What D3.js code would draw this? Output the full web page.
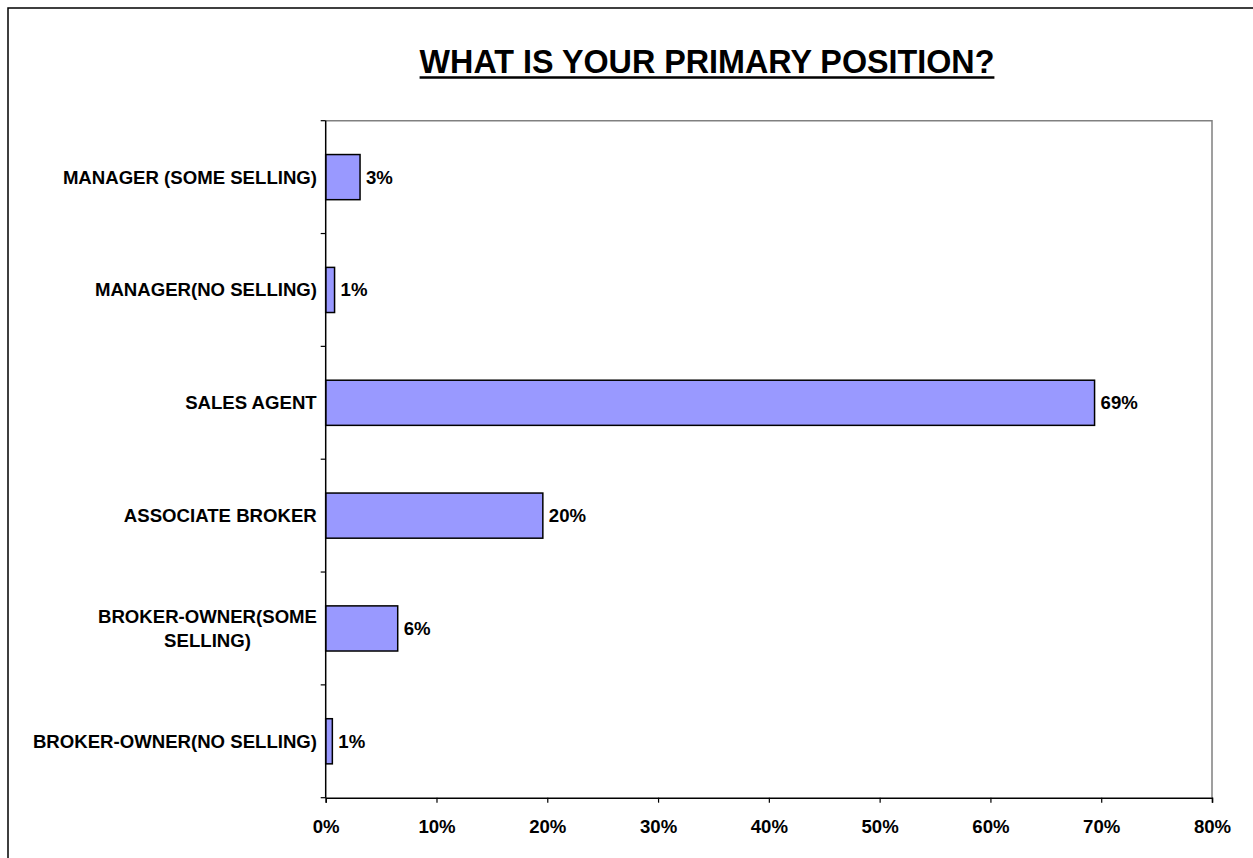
<!DOCTYPE html>
<html>
<head>
<meta charset="utf-8">
<script src="https://cdn.jsdelivr.net/npm/d3@7"></script>
<style>
  html, body { margin: 0; padding: 0; background: #fff; }
  svg { display: block; font-family: "Liberation Sans", Arial, sans-serif; }
</style>
</head>
<body>
<svg id="chart" width="1253" height="858"></svg>
<script>
// Survey responses: share of respondents by primary position
const categories = [
  "MANAGER (SOME SELLING)",
  "MANAGER(NO SELLING)",
  "SALES AGENT",
  "ASSOCIATE BROKER",
  "BROKER-OWNER(SOME SELLING)",
  "BROKER-OWNER(NO SELLING)"
];
const values = [3.1, 0.8, 69.4, 19.6, 6.5, 0.6];
const valueLabels = ["3%", "1%", "69%", "20%", "6%", "1%"];
const xTicks = [0, 10, 20, 30, 40, 50, 60, 70, 80];
const title = "WHAT IS YOUR PRIMARY POSITION?";

// Line breaks for long category names
const wrapped = {
  "BROKER-OWNER(SOME SELLING)": ["BROKER-OWNER(SOME", "SELLING)"]
};

const FS = 18.6;
const svg = d3.select("#chart");
const W = 1253, H = 858;
const plot = { left: 325.7, right: 1212, top: 120.7, bottom: 797.7 };

// Outer frame
svg.append("rect")
  .attr("x", 8).attr("y", 8)
  .attr("width", W + 10).attr("height", H + 10)
  .attr("fill", "none").attr("stroke", "#000").attr("stroke-width", 1.5);

const x = d3.scaleLinear().domain([0, 80]).range([plot.left, plot.right]);
const y = d3.scaleBand().domain(categories).range([plot.top, plot.bottom])
  .paddingInner(0.6).paddingOuter(0.3);

// Plot area border (top and right in gray)
svg.append("path")
  .attr("d", `M${plot.left},${plot.top}H${plot.right}V${plot.bottom}`)
  .attr("fill", "none").attr("stroke", "#808080").attr("stroke-width", 1.5);

// Bars
svg.append("g").selectAll("rect")
  .data(values)
  .join("rect")
  .attr("x", x(0))
  .attr("y", (d, i) => y(categories[i]))
  .attr("width", d => x(d) - x(0))
  .attr("height", y.bandwidth())
  .attr("fill", "#9999FF")
  .attr("stroke", "#000")
  .attr("stroke-width", 1.5);

// Value labels
svg.append("g").selectAll("text")
  .data(values)
  .join("text")
  .attr("x", d => x(d) + 6)
  .attr("y", (d, i) => y(categories[i]) + y.bandwidth() / 2)
  .attr("dy", "0.35em")
  .attr("font-size", FS).attr("font-weight", "bold")
  .text((d, i) => valueLabels[i]);

// X axis
const xAxis = d3.axisBottom(x).tickValues(xTicks).tickFormat(d => d + "%")
  .tickSize(5).tickPadding(17);
const gx = svg.append("g").attr("transform", `translate(0,${plot.bottom})`).call(xAxis);
gx.select(".domain").attr("stroke", "#000").attr("stroke-width", 1.5);
gx.selectAll(".tick line").attr("stroke", "#000").attr("stroke-width", 1.2);
gx.selectAll(".tick text")
  .attr("font-size", FS).attr("font-weight", "bold")
  .attr("font-family", "Liberation Sans, Arial, sans-serif").attr("fill", "#000");

// Y axis: line with ticks at band boundaries
const step = y.step();
const boundaries = d3.range(categories.length + 1).map(i => plot.top + i * step);
const gy = svg.append("g");
gy.append("line")
  .attr("x1", plot.left).attr("x2", plot.left)
  .attr("y1", plot.top).attr("y2", plot.bottom)
  .attr("stroke", "#000").attr("stroke-width", 1.5);
gy.selectAll("line.tick")
  .data(boundaries)
  .join("line")
  .attr("class", "tick")
  .attr("x1", plot.left - 5).attr("x2", plot.left)
  .attr("y1", d => d).attr("y2", d => d)
  .attr("stroke", "#000").attr("stroke-width", 1.2);

// Category labels
const labelRight = 317;
const lineH = 23.5;
categories.forEach(c => {
  const lines = wrapped[c] || [c];
  const cy = y(c) + y.bandwidth() / 2;
  const t = svg.append("text")
    .attr("font-size", FS).attr("font-weight", "bold")
    .attr("text-anchor", "middle");
  lines.forEach((ln, j) => {
    t.append("tspan")
      .attr("x", 0)
      .attr("y", cy + (j - (lines.length - 1) / 2) * lineH)
      .attr("dy", "0.35em")
      .text(ln);
  });
  const wMax = t.node().getBBox().width;
  t.attr("transform", `translate(${labelRight - wMax / 2},0)`);
});

// Title (underlined)
const tt = svg.append("text")
  .attr("x", 707).attr("y", 73)
  .attr("text-anchor", "middle")
  .attr("font-size", 32.3).attr("font-weight", "bold")
  .text(title);
const tb = tt.node().getBBox();
svg.append("line")
  .attr("x1", tb.x).attr("x2", tb.x + tb.width)
  .attr("y1", 77.5).attr("y2", 77.5)
  .attr("stroke", "#000").attr("stroke-width", 2.5);
</script>
</body>
</html>
